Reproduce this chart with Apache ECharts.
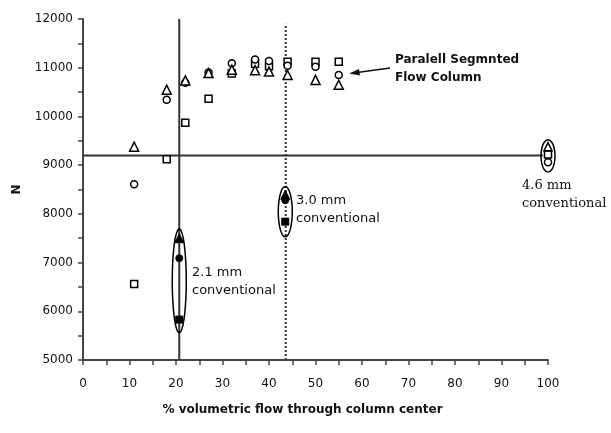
<!DOCTYPE html>
<html>
<head>
<meta charset="utf-8">
<script src="https://cdn.jsdelivr.net/npm/echarts@6/dist/echarts.min.js"></script>
<style>html,body{margin:0;padding:0;background:#fff}#c{width:611px;height:433px}</style>
</head>
<body>
<div id="c"></div>
<script>
// Parallel segmented flow column (open markers): [x %, N]
var psfTriangle = [[11,9380],[18,10550],[22,10740],[27,10890],[32,10960],[37,10950],[40,10920],[44,10850],[50,10750],[55,10650]];
var psfCircle   = [[11,8610],[18,10340],[22,10690],[27,10900],[32,11090],[37,11170],[40,11140],[44,11040],[50,11020],[55,10850]];
var psfSquare   = [[11,6560],[18,9120],[22,9870],[27,10365],[32,10880],[37,11080],[40,11030],[44,11120],[50,11120],[55,11125]];
// Conventional columns (filled markers)
var convTriangle = [[20.7,7500],[43.5,8390]];
var convCircle   = [[20.7,7090],[43.5,8280]];
var convSquare   = [[20.7,5830],[43.5,7840]];
// 4.6 mm conventional (open markers inside ellipse)
var conv46Triangle = [[100,9380]];
var conv46Square   = [[100,9220]];
var conv46Circle   = [[100,9060]];
// Ellipses around conventional groups: [x, N low, N high]
var ellipses = [[20.7,5560,7690],[43.5,7530,8560],[100,8860,9520]];
// Reference lines
var hLine = [[0,9200],[98.9,9200]];
var vSolid = [[20.7,5000],[20.7,12000]];
var vDotted = [[43.6,5000],[43.6,11900]];
// Axis settings
var xTicks = {min:0, max:100, interval:10};
var yTicks = {min:5000, max:12000, interval:1000};

var chart = echarts.init(document.getElementById('c'));
var font = 'DejaVu Sans';
var ink = '#111';

function openSeries(data, symbol, size){
  return {type:'scatter', data:data, symbol:symbol, symbolSize:size, clip:false, z:5,
    itemStyle:{color:'#fff', borderColor:'#000', borderWidth:1.5, opacity:1}};
}
function filledSeries(data, symbol, size){
  return {type:'scatter', data:data, symbol:symbol, symbolSize:size, clip:false, z:5,
    itemStyle:{color:'#000', borderColor:'#000', borderWidth:1, opacity:1}};
}
function lineSeries(data, type){
  return {type:'line', data:data, symbol:'none', clip:false, z:2, silent:true,
    lineStyle:{color:'#333', width:2, type:type}};
}

var option = {
  animation:false,
  backgroundColor:'#fff',
  grid:{left:83, right:63, top:19, bottom:73},
  xAxis:{type:'value', min:xTicks.min, max:xTicks.max, interval:xTicks.interval,
    name:'% volumetric flow through column center', nameLocation:'middle', nameGap:44,
    nameTextStyle:{fontFamily:font, fontSize:12, fontWeight:'bold', color:ink, padding:[0,26,0,0]},
    axisLine:{lineStyle:{color:'#444', width:2}},
    axisTick:{length:5, lineStyle:{color:'#444', width:1.5}},
    minorTick:{show:true, splitNumber:2, length:5, lineStyle:{color:'#444', width:1.5}},
    splitLine:{show:false},
    axisLabel:{fontFamily:font, fontSize:12, color:ink, margin:18}
  },
  yAxis:{type:'value', min:yTicks.min, max:yTicks.max, interval:yTicks.interval,
    name:'N', nameLocation:'middle', nameGap:60,
    nameTextStyle:{fontFamily:font, fontSize:12, fontWeight:'bold', color:ink},
    axisLine:{show:true, lineStyle:{color:'#444', width:2}},
    axisTick:{show:true, length:5, lineStyle:{color:'#444', width:1.5}},
    minorTick:{show:true, splitNumber:2, length:5, lineStyle:{color:'#444', width:1.5}},
    splitLine:{show:false},
    axisLabel:{fontFamily:font, fontSize:12, color:ink, margin:10, formatter:function(v){return String(v);}}
  },
  series:[
    lineSeries(hLine,'solid'),
    lineSeries(vSolid,'solid'),
    lineSeries(vDotted,'dotted'),
    openSeries(psfSquare,'rect',7),
    openSeries(psfCircle,'circle',7),
    openSeries(psfTriangle,'triangle',9),
    filledSeries(convSquare,'rect',7),
    filledSeries(convCircle,'circle',7),
    filledSeries(convTriangle,'triangle',9),
    openSeries(conv46Square,'rect',7),
    openSeries(conv46Circle,'circle',7),
    openSeries(conv46Triangle,'triangle',8),
    {type:'custom', data:ellipses, clip:false, z:4, silent:true,
      renderItem:function(params, api){
        var x = api.value(0), lo = api.value(1), hi = api.value(2);
        var top = api.coord([x, hi]), bot = api.coord([x, lo]);
        var cx = top[0], cy = (top[1]+bot[1])/2, ry = (bot[1]-top[1])/2, rx = 7;
        var pts = [];
        for (var i=0;i<64;i++){ var a = i/64*Math.PI*2; pts.push([cx+rx*Math.cos(a), cy+ry*Math.sin(a)]); }
        return {type:'polygon', shape:{points:pts}, style:{fill:'none', stroke:'#000', lineWidth:1.5}};
      }
    }
  ],
  graphic:[
    {type:'text', left:395, top:54, style:{text:'Paralell Segmnted', font:'bold 12px "DejaVu Sans"', fill:ink}},
    {type:'text', left:395, top:72, style:{text:'Flow Column', font:'bold 12px "DejaVu Sans"', fill:ink}},
    {type:'line', shape:{x1:390, y1:68, x2:357, y2:72.5}, style:{stroke:ink, lineWidth:1.5}},
    {type:'polygon', shape:{points:[[349,73.5],[359,69],[360,75.5]]}, style:{fill:ink}},
    {type:'text', left:192, top:266, style:{text:'2.1 mm', font:'13px "DejaVu Sans"', fill:ink}},
    {type:'text', left:192, top:284, style:{text:'conventional', font:'13px "DejaVu Sans"', fill:ink}},
    {type:'text', left:296, top:194, style:{text:'3.0 mm', font:'13px "DejaVu Sans"', fill:ink}},
    {type:'text', left:296, top:212, style:{text:'conventional', font:'13px "DejaVu Sans"', fill:ink}},
    {type:'text', left:522, top:179, style:{text:'4.6 mm', font:'13px "DejaVu Serif"', fill:ink}},
    {type:'text', left:522, top:197, style:{text:'conventional', font:'13px "DejaVu Serif"', fill:ink}}
  ]
};
chart.setOption(option);
</script>
</body>
</html>
